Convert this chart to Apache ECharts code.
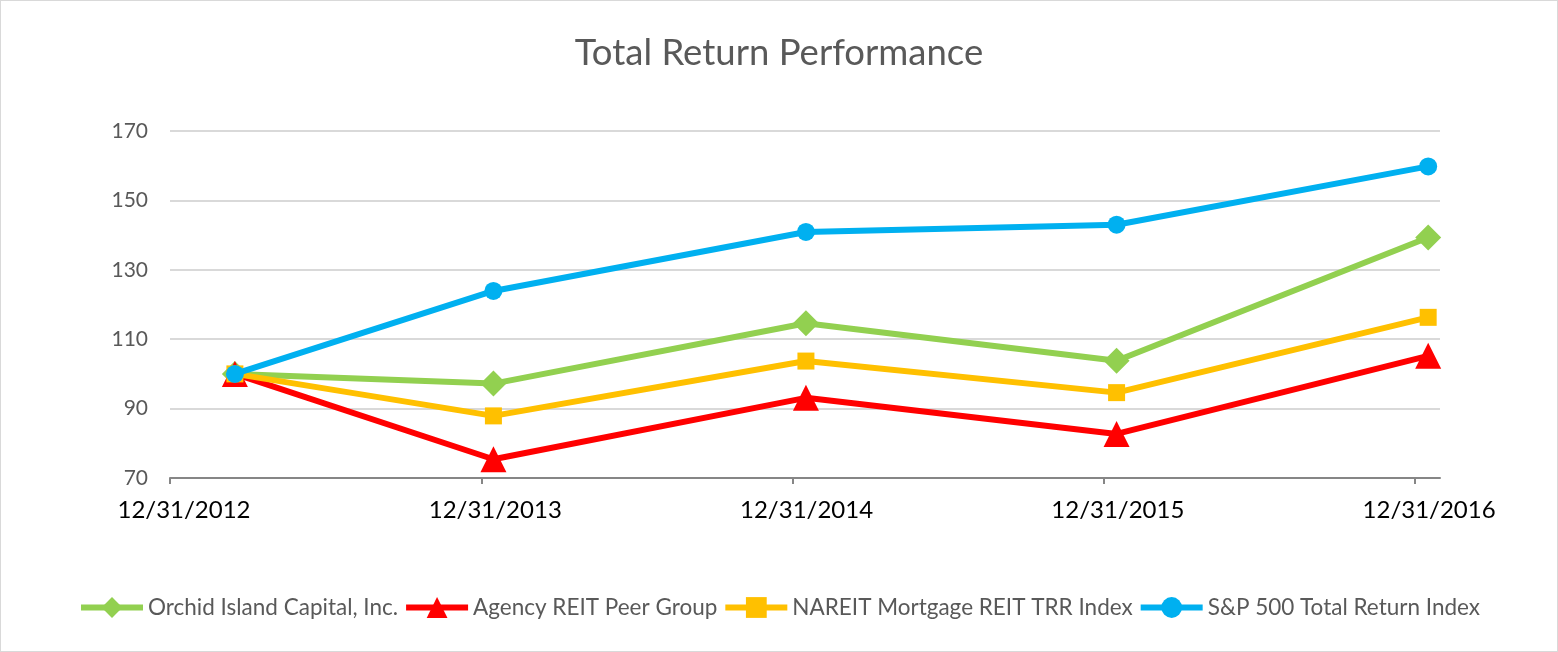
<!DOCTYPE html>
<html>
<head>
<meta charset="utf-8">
<script src="https://cdn.jsdelivr.net/npm/echarts@6/dist/echarts.min.js"></script>
<style>
html,body{margin:0;padding:0;background:#fff;}
#c{width:1558px;height:652px;box-sizing:border-box;border:1px solid #D9D9D9;}
</style>
</head>
<body>
<div id="c"></div>
<script>
// x positions in years from 12/31/2012
const xPositions = [0.2085, 1.039, 2.043, 3.041, 4.042];
const tickLabels = ['12/31/2012', '12/31/2013', '12/31/2014', '12/31/2015', '12/31/2016'];
const seriesNames = ['Orchid Island Capital, Inc.', 'Agency REIT Peer Group', 'NAREIT Mortgage REIT TRR Index', 'S&P 500 Total Return Index'];
const orchid = [100, 97.2, 114.6, 103.8, 139.3];
const agency = [100, 75.4, 93.1, 82.7, 105.2];
const nareit = [100, 87.9, 103.7, 94.6, 116.3];
const sp500 = [100, 123.9, 140.9, 143.0, 159.8];

const colors = ['#92D050', '#FF0000', '#FFC000', '#00B0F0'];
const symbols = ['diamond', 'triangle', 'rect', 'circle'];
const symbolSizes = [26, 26, 17, 18];
const values = [orchid, agency, nareit, sp500];

const chart = echarts.init(document.getElementById('c'));
const font = 'Lato';
chart.setOption({
  animation: false,
  title: {
    text: 'Total Return Performance',
    left: 'center',
    top: 29,
    textStyle: {fontFamily: font, fontSize: 36.5, fontWeight: 'normal', color: '#595959'}
  },
  legend: {
    bottom: 27,
    left: 'center',
    itemWidth: 62,
    itemHeight: 26,
    itemGap: 5,
    data: seriesNames,
    lineStyle: {width: 6},
    textStyle: {fontFamily: font, fontSize: 22.5, color: '#595959'}
  },
  grid: {left: 169, right: 117, top: 130, bottom: 173, containLabel: false},
  xAxis: {
    type: 'value',
    min: 0,
    max: 4.08,
    interval: 1,
    axisLine: {show: true, lineStyle: {color: '#868686', width: 2}},
    axisTick: {show: true, length: 6, lineStyle: {color: '#868686', width: 2}, customValues: [0, 1, 2, 3, 4]},
    axisLabel: {
      customValues: [0, 1, 2, 3, 4],
      formatter: v => tickLabels[Math.round(v)] || '',
      fontFamily: font, fontSize: 24, color: '#000', margin: 20,
      padding: [0, 0, 0, 28]
    },
    splitLine: {show: false}
  },
  yAxis: {
    type: 'value',
    min: 70,
    max: 170,
    interval: 20,
    axisLine: {show: false},
    axisTick: {show: false},
    axisLabel: {fontFamily: font, fontSize: 21, color: '#595959', margin: 22},
    splitLine: {lineStyle: {color: '#D9D9D9', width: 2}}
  },
  series: seriesNames.map((name, i) => ({
    name: name,
    type: 'line',
    data: values[i].map((v, j) => [xPositions[j], v]),
    symbol: symbols[i],
    symbolSize: symbolSizes[i],
    showAllSymbol: true,
    z: 2 + i,
    lineStyle: {color: colors[i], width: 6},
    itemStyle: {color: colors[i]}
  }))
});
</script>
</body>
</html>
